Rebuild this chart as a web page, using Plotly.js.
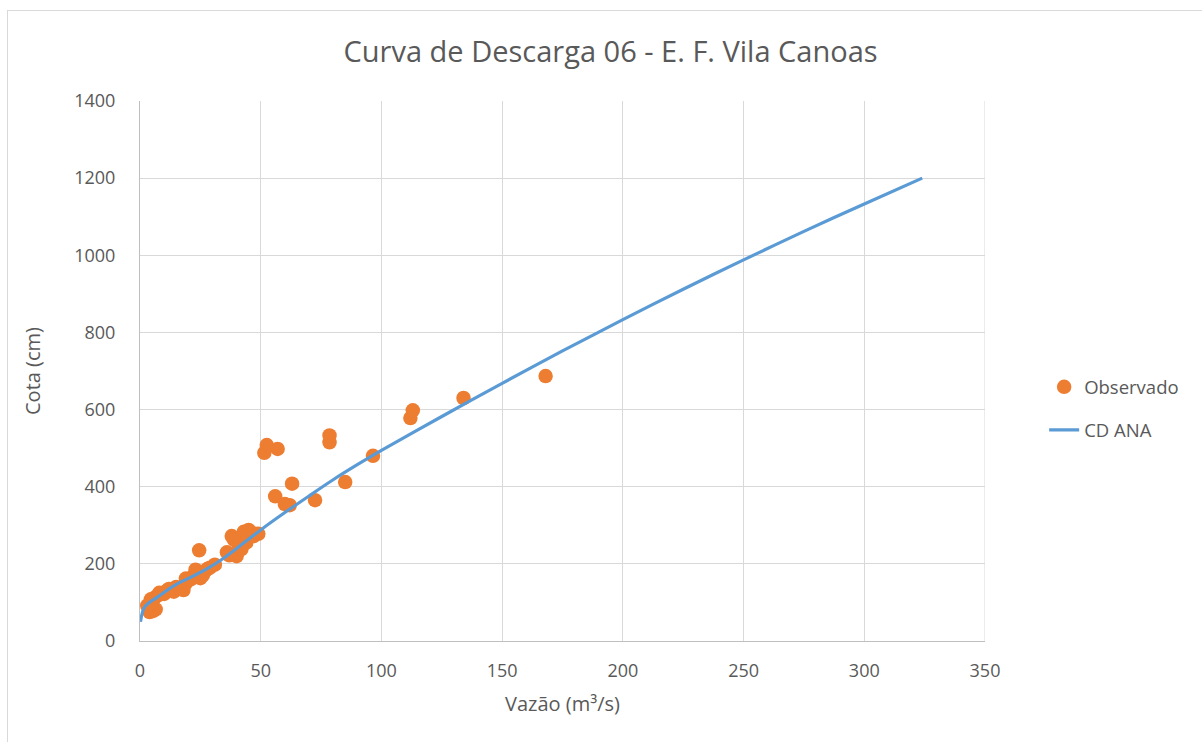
<!DOCTYPE html>
<html>
<head>
<meta charset="utf-8">
<script src="https://cdn.plot.ly/plotly-3.0.1.min.js"></script>
<style>
  html, body { margin: 0; padding: 0; background: #fff; }
  #wrap { position: relative; width: 1202px; height: 742px; overflow: hidden; }
  #chart { position: absolute; left: 0; top: 0; width: 1202px; height: 742px; }
  #frame { position: absolute; left: 7px; top: 10px; width: 1300px; height: 800px;
           border: 1px solid #d9d9d9; pointer-events: none; }
</style>
</head>
<body>
<div id="wrap">
  <div id="chart"></div>
  <div id="frame"></div>
</div>
<script>
// Observed discharge (m³/s) and stage (cm)
const obsQ = [4, 5.5, 6.5, 3, 4.5, 5, 6, 7.5, 8, 10, 11, 12, 14, 15, 17, 18, 19, 19, 21, 22,
              23, 24, 25, 26, 27, 28, 29, 31, 24.5, 36, 37, 38, 39, 40, 41, 42, 43, 44, 45, 46,
              47, 49, 51.5, 52.5, 57, 56, 60, 62, 63, 72.5, 78.5, 78.5, 85, 96.5, 112, 113, 134, 168];
const obsH = [75, 78, 82, 92, 108, 100, 112, 118, 125, 122, 130, 135, 128, 140, 138, 132, 150, 162, 160, 168,
              185, 175, 163, 170, 182, 187, 190, 198, 235, 230, 222, 272, 262, 220, 245, 238, 283, 255, 288, 282,
              272, 278, 488, 508, 498, 375, 355, 352, 408, 365, 515, 533, 412, 480, 578, 598, 630, 687];

// Rating curve (CD ANA)
const cdQ = [0.2, 2, 7.5, 14.5, 22, 28, 34, 40, 50, 60, 70, 80, 90, 100, 125, 150, 175, 200, 225, 250, 275, 300, 324];
const cdH = [50, 89, 115, 145, 168, 188, 212, 240, 288, 333, 376, 418, 457, 494, 582, 668, 752, 833, 912, 988, 1062, 1133, 1200];

const xTicks = [0, 50, 100, 150, 200, 250, 300, 350];
const yTicks = [0, 200, 400, 600, 800, 1000, 1200, 1400];

const txt = '#595959';
const fontFam = 'Open Sans, Noto Sans, sans-serif';

const traces = [
  {
    x: obsQ, y: obsH, type: 'scatter', mode: 'markers', name: 'Observado',
    legendgroup: 'a',
    marker: { color: '#ED7D31', size: 14.5 }
  },
  {
    x: cdQ, y: cdH, type: 'scatter', mode: 'lines', name: 'CD ANA',
    legendgroup: 'b',
    line: { color: '#5B9BD5', width: 3.2, shape: 'spline', smoothing: 0.9 }
  }
];

const layout = {
  width: 1202, height: 742,
  margin: { l: 140, r: 217, t: 101, b: 101 },
  paper_bgcolor: 'rgba(0,0,0,0)',
  plot_bgcolor: '#fff',
  font: { family: fontFam, color: txt, size: 17 },
  title: {
    text: 'Curva de Descarga 06 - E. F. Vila Canoas',
    font: { family: fontFam, size: 29, color: txt },
    x: 0.508, xanchor: 'center', y: 0.93, yanchor: 'middle'
  },
  xaxis: {
    range: [0, 350], tickvals: xTicks, ticktext: xTicks.map(String),
    showgrid: true, gridcolor: '#d9d9d9', gridwidth: 1,
    showline: true, linecolor: '#bfbfbf', linewidth: 1, zeroline: false,
    ticks: '', ticklabelstandoff: 13,
    tickfont: { size: 18, color: txt },
    title: { text: 'Vazão (m³/s)', font: { size: 20, color: txt }, standoff: 16 }
  },
  yaxis: {
    range: [0, 1400], tickvals: yTicks, ticktext: yTicks.map(String),
    showgrid: true, gridcolor: '#d9d9d9', gridwidth: 1,
    showline: true, linecolor: '#bfbfbf', linewidth: 1, zeroline: false,
    ticks: '', ticklabelstandoff: 20,
    tickfont: { size: 18, color: txt },
    title: { text: 'Cota (cm)', font: { size: 20, color: txt }, standoff: 28 }
  },
  showlegend: true,
  legend: {
    x: 1.07, xanchor: 'left', y: 0.505, yanchor: 'top',
    traceorder: 'grouped', tracegroupgap: 16,
    font: { size: 18.5, color: txt }, bgcolor: 'rgba(0,0,0,0)'
  },
  shapes: [
    { type: 'line', xref: 'x', yref: 'paper', x0: 350, x1: 350, y0: 0, y1: 1,
      line: { color: '#d9d9d9', width: 1 } }
  ]
};

Plotly.newPlot('chart', traces, layout, { displayModeBar: false, staticPlot: true });
</script>
</body>
</html>
